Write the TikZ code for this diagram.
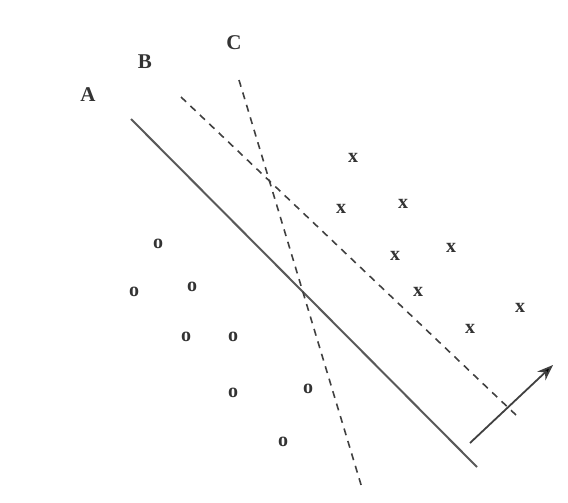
\documentclass[tikz,border=0pt]{standalone}
\usepackage{fontspec}
\setmainfont{Liberation Serif}
\usetikzlibrary{arrows.meta}
\begin{document}
\begin{tikzpicture}[x=0.5pt,y=-0.5pt,
  sample/.style={inner sep=0pt, font=\fontsize{10}{12}\selectfont\bfseries, text=black!80},
  tag/.style={inner sep=0pt, font=\fontsize{10.5}{12}\selectfont\bfseries, text=black!80},
  hyper/.style={line width=1pt, draw=black!65},
  hyperdash/.style={line width=0.8pt, draw=black!75, dash pattern=on 3.5pt off 3pt},
  normal/.style={line width=0.9pt, draw=black!75, -{Stealth[length=8pt,width=6pt,fill=black]}},
]
\useasboundingbox (0,0) rectangle (568,503);

% separating lines
\coordinate (a1) at (131,119);
\coordinate (a2) at (477,467);
\coordinate (b1) at (181,97);
\coordinate (b2) at (516,415);
\coordinate (c1) at (239,80);
\coordinate (c2) at (362,488);
\coordinate (w1) at (470,443);
\coordinate (w2) at (553,365);

\draw[hyper] (a1) -- (a2);
\draw[hyperdash] (b1) -- (b2);
\draw[hyperdash] (c1) -- (c2);
\draw[normal] (w1) -- (w2);

% line labels
\node[tag] (lA) at (88,95) {A};
\node[tag] (lB) at (145,62) {B};
\node[tag] (lC) at (234,43) {C};

% negative class
\node[sample] (o1) at (158,244) {o};
\node[sample] (o2) at (134,292) {o};
\node[sample] (o3) at (192,287) {o};
\node[sample] (o4) at (186,337) {o};
\node[sample] (o5) at (233,337) {o};
\node[sample] (o6) at (233,393) {o};
\node[sample] (o7) at (308,389) {o};
\node[sample] (o8) at (283,442) {o};

% positive class
\node[sample] (x1) at (353,158) {x};
\node[sample] (x2) at (341,209) {x};
\node[sample] (x3) at (403,204) {x};
\node[sample] (x4) at (395,256) {x};
\node[sample] (x5) at (451,248) {x};
\node[sample] (x6) at (418,292) {x};
\node[sample] (x7) at (470,329) {x};
\node[sample] (x8) at (520,308) {x};
\end{tikzpicture}
\end{document}
